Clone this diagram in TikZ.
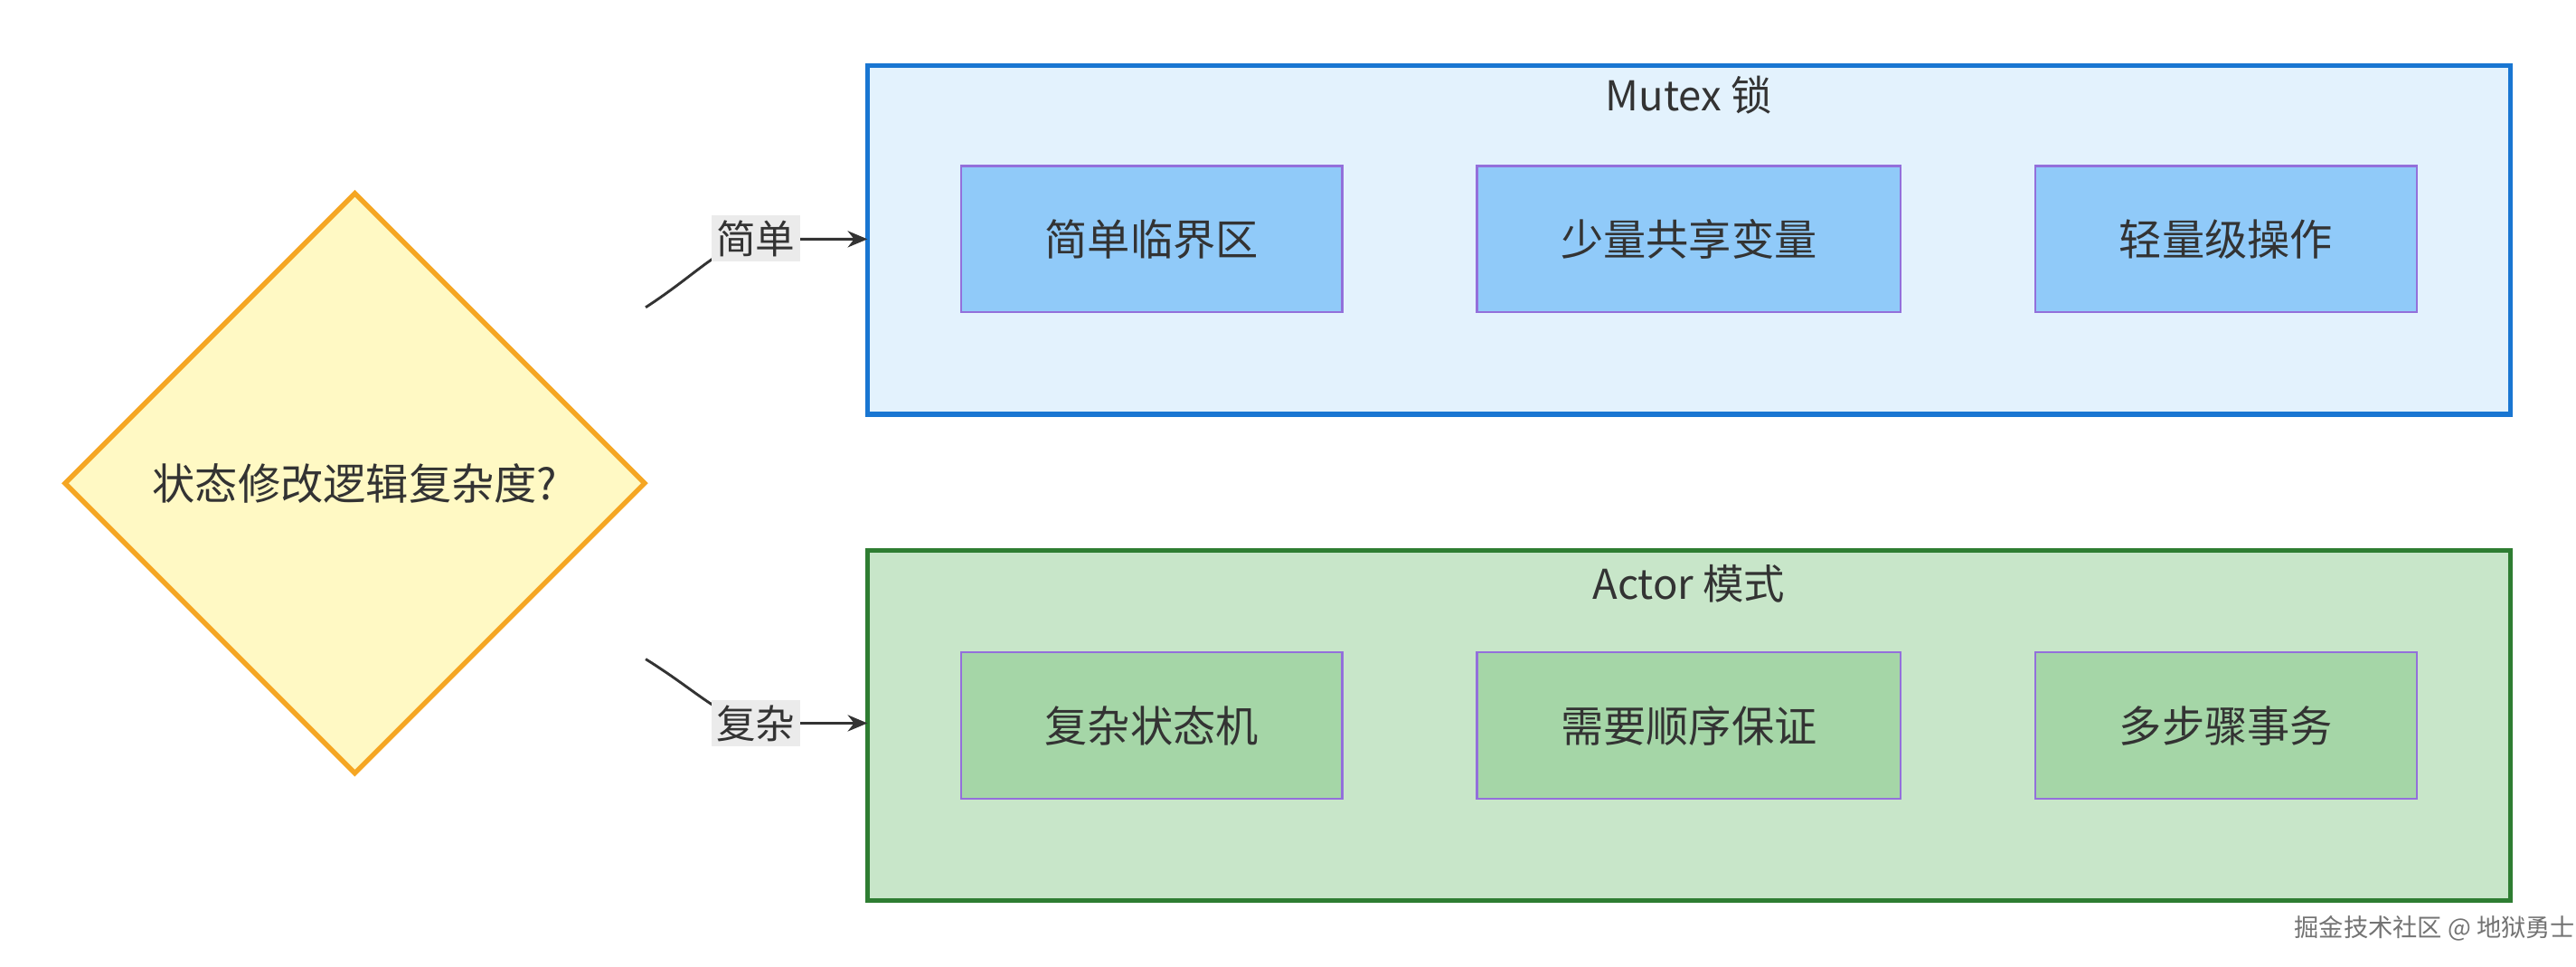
\documentclass[tikz,border=0pt]{standalone}
\usepackage{fontspec}
\setmainfont{Noto Sans CJK SC}
\usetikzlibrary{shapes.geometric,arrows.meta}
\definecolor{mfill}{HTML}{E3F2FD}\definecolor{mline}{HTML}{1976D2}
\definecolor{afill}{HTML}{C8E6C9}\definecolor{aline}{HTML}{2E7D32}
\definecolor{bn}{HTML}{90CAF9}\definecolor{gn}{HTML}{A5D6A7}
\definecolor{pl}{HTML}{9370DB}
\definecolor{dfill}{HTML}{FFF9C4}\definecolor{dline}{HTML}{F5A623}
\begin{document}
\begin{tikzpicture}[x=0.5pt,y=-0.5pt,
 grp/.style={draw,line width=1.5pt},
 inner/.style={draw=pl,line width=0.6pt,minimum width=116pt,minimum height=44.5pt,font=\fontsize{13}{15}\selectfont,text=black!80},
 lbl/.style={fill=black!8,inner sep=1.5pt,font=\fontsize{12}{14}\selectfont,text=black!80},
 edge/.style={draw=black!80,line width=0.8pt,-{Stealth[length=6pt,width=5pt]}}]
\useasboundingbox (0,0) rectangle (1568,588);
\fill[white] (0,0) rectangle (1568,588);
\node[grp,draw=mline,fill=mfill,minimum width=500pt,minimum height=106pt] (mutex) at (1028,146) {};
\node[font=\fontsize{12.5}{14}\selectfont,text=black!80] (mt) at (1028,58) {Mutex 锁};
\node[grp,draw=aline,fill=afill,minimum width=500pt,minimum height=106.5pt] (actor) at (1028,441.5) {};
\node[font=\fontsize{12.5}{14}\selectfont,text=black!80] (at) at (1028,355) {Actor 模式};
\node[inner,fill=bn] (m1) at (701,145.5) {简单临界区};
\node[inner,fill=bn,minimum width=129pt] (m2) at (1028,145.5) {少量共享变量};
\node[inner,fill=bn] (m3) at (1355,145.5) {轻量级操作};
\node[inner,fill=gn] (a1) at (701,441.5) {复杂状态机};
\node[inner,fill=gn,minimum width=129pt] (a2) at (1028,441.5) {需要顺序保证};
\node[inner,fill=gn] (a3) at (1355,441.5) {多步骤事务};
\node[diamond,draw=dline,fill=dfill,line width=1.5pt,minimum width=177pt,minimum height=177pt,inner sep=0pt,font=\fontsize{13}{15}\selectfont,text=black!80] (d) at (216,294) {};
\node[font=\fontsize{13}{15}\selectfont,text=black!80] (dt) at (216,294) {状态修改逻辑复杂度?};
\coordinate (s1) at (393,187);
\coordinate (s2) at (393,401);
\coordinate (e1) at (528,145.5);
\coordinate (e2) at (528,440);
\draw[edge] (s1) .. controls (430,163) and (440,145.5) .. (470,145.5) -- (e1);
\draw[edge] (s2) .. controls (430,424) and (440,440) .. (470,440) -- (e2);
\node[lbl] (l1) at (460,145) {简单};
\node[lbl] (l2) at (460,440) {复杂};
\node[font=\fontsize{7.5}{9}\selectfont,text=black!55] (wm) at (1482,565) {掘金技术社区 @ 地狱勇士};
\end{tikzpicture}
\end{document}
